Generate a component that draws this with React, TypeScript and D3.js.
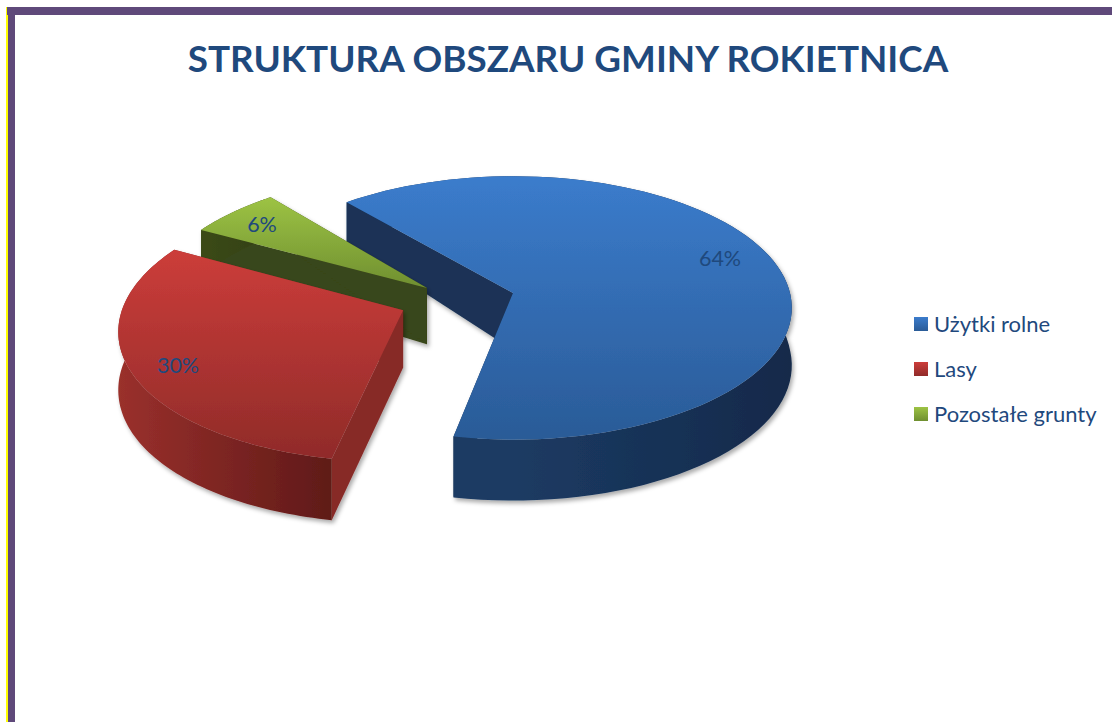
import React from "react";
import * as d3 from "d3";

const categories = ["Użytki rolne", "Lasy", "Pozostałe grunty"];
const shares = [64, 30, 6];
const percentLabels = ["64%", "30%", "6%"];

const sliceIds = ["blue", "red", "green"];
const faceTop = ["#3B7CCC", "#CC3D3A", "#9DC344"];
const faceBottom = ["#2A5B97", "#902B29", "#6F8F30"];
const wallLeft = ["#1C3B63", "#9A302C", "#3B4A19"];
const wallRight = ["#13294A", "#5F1A18", "#333F14"];
const sideWall = ["#1A3356", "#872A28", "#39461A"];
const explodeX = [0, -0.391, -0.312];
const explodeY = [0, 0.13, -0.038];
const startNudge = [-0.7, 0, 0];
const endNudge = [0.6, 0, 0];
const labelX = [720, 178, 262];
const labelY = [266, 373, 232];
const legendY = [324, 369, 414];
const drawOrder = [0, 2, 1];
const wallGradientStart = [0.38, 0, 0];

const CX = 513, CY = 293, RX = 277, RY = 130, P = 0.1135;
const DEG = Math.PI / 180;
const depth = (wy: number) => 1 - P * wy;
const project = (wx: number, wy: number): [number, number] => [
  CX + (RX * wx) / depth(wy),
  CY + (RY * wy) / depth(wy),
];
const wallHeight = (wy: number) => {
  const d = depth(wy);
  return d < 1 ? 57 + (1 - d) * 35 : 57 - (d - 1) * 195;
};
const lineGen = d3.line<[number, number]>();

const arcs = d3.pie<number>().sort(null).startAngle(-40 * DEG).endAngle(320 * DEG)(shares);

function sliceShapes(i: number) {
  const a = arcs[i];
  const ox = explodeX[i], oy = explodeY[i];
  const from = a.startAngle + startNudge[i] * DEG;
  const to = a.endAngle + endNudge[i] * DEG;
  const steps = 90;
  const world: [number, number][] = d3.range(steps + 1).map((k) => {
    const t = from + ((to - from) * k) / steps;
    return [ox + Math.sin(t), oy - Math.cos(t)];
  });
  const down = (w: [number, number]): [number, number] => {
    const p = project(w[0], w[1]);
    return [p[0], p[1] + wallHeight(w[1])];
  };
  const apex: [number, number] = [ox, oy];
  const top = world.map((w) => project(w[0], w[1]));
  const bottom = world.map(down);
  const apexP = project(ox, oy);
  const apexB = down(apex);
  const face = lineGen([apexP, ...top])! + "Z";
  const outer = lineGen([...top, ...bottom.slice().reverse()])! + "Z";
  const wallStart = lineGen([apexP, top[0], bottom[0], apexB])! + "Z";
  const wallEnd = lineGen([apexP, top[steps], bottom[steps], apexB])! + "Z";
  // the radial wall that faces the viewer is painted after the rim
  const frontWall = i === 2 ? wallEnd : wallStart;
  const backWall = i === 2 ? wallStart : wallEnd;
  return { face, outer, frontWall, backWall };
}

export default function App() {
  const font = "Lato, 'Open Sans', sans-serif";
  const ink = "#1F497D";
  return (
    <svg width={1112} height={722} style={{ position: "absolute", left: 0, top: 0, background: "#fff" }}>
      <defs>
        <filter id="shadow" x="-10%" y="-10%" width="120%" height="120%">
          <feDropShadow dx={2} dy={3} stdDeviation={2} floodColor="#000" floodOpacity={0.33} />
        </filter>
        {sliceIds.map((id, i) => (
          <React.Fragment key={id}>
            <linearGradient id={`face-${id}`} x1="0" y1="0" x2="0" y2="1">
              <stop offset="0" stopColor={faceTop[i]} />
              <stop offset="1" stopColor={faceBottom[i]} />
            </linearGradient>
            <linearGradient id={`wall-${id}`} x1="0" y1="0" x2="1" y2="0">
              <stop offset={wallGradientStart[i]} stopColor={wallLeft[i]} />
              <stop offset="1" stopColor={wallRight[i]} />
            </linearGradient>
          </React.Fragment>
        ))}
      </defs>

      <rect x={6} y={7} width={2} height={715} fill="#FFFF00" />
      <rect x={7} y={7} width={1105} height={8} fill="#5F497A" />
      <rect x={8} y={7} width={7} height={715} fill="#5F497A" />

      <text x={568} y={72} textAnchor="middle" fontFamily={font} fontWeight={700} fontSize={36.85} fill={ink}>
        STRUKTURA OBSZARU GMINY ROKIETNICA
      </text>

      {drawOrder.map((i) => {
        const s = sliceShapes(i);
        const id = sliceIds[i];
        return (
          <g key={id} filter="url(#shadow)">
            <path d={s.backWall} fill={sideWall[i]} />
            <path d={s.outer} fill={`url(#wall-${id})`} />
            <path d={s.frontWall} fill={sideWall[i]} />
            <path d={s.face} fill={`url(#face-${id})`} />
          </g>
        );
      })}

      {percentLabels.map((t, i) => (
        <text key={t} x={labelX[i]} y={labelY[i]} textAnchor="middle" fontFamily={font} fontSize={21.5} fill={ink}>
          {t}
        </text>
      ))}

      {categories.map((c, i) => (
        <g key={c}>
          <rect x={914} y={legendY[i] - 7} width={14} height={14} fill={`url(#face-${sliceIds[i]})`} />
          <text x={934} y={legendY[i] + 8} fontFamily={font} fontSize={22} fill={ink}>
            {c}
          </text>
        </g>
      ))}
    </svg>
  );
}
